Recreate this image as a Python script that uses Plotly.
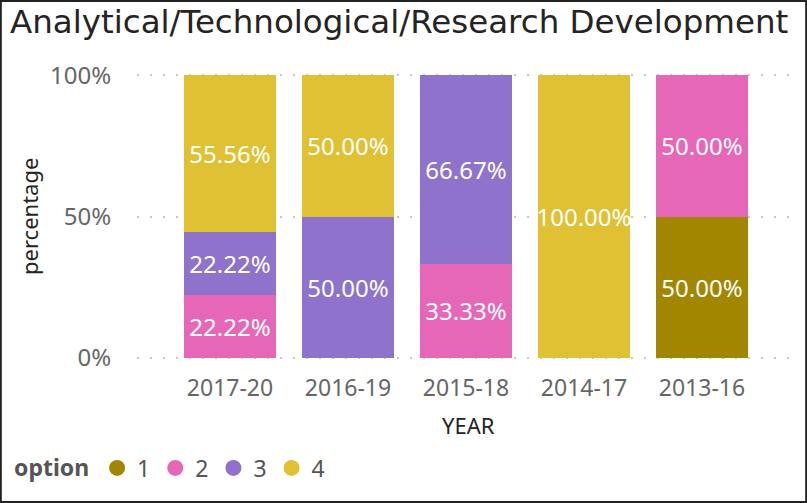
import plotly.graph_objects as go

years = ["2017-20", "2016-19", "2015-18", "2014-17", "2013-16"]
option_names = ["1", "2", "3", "4"]
opt1 = [None, None, None, None, 50.00]
opt2 = [22.22, None, 33.33, None, 50.00]
opt3 = [22.22, 50.00, 66.67, None, None]
opt4 = [55.56, 50.00, None, 100.00, None]
series = [opt1, opt2, opt3, opt4]
colors = ["#A38600", "#E667B8", "#8E72CC", "#E0C133"]
y_ticks = [0, 50, 100]
y_tick_text = ["0%", "50%", "100%"]

W, H = 807, 503
px_l, px_r, px_t, px_b = 137, 796, 74, 359

fig = go.Figure()
for name, vals, col in zip(option_names, series, colors):
    fig.add_trace(go.Bar(
        x=years, y=vals, name=name, marker=dict(color=col, line=dict(width=0)),
        text=[(f"{v:.2f}%" if v else "") for v in vals],
        textposition="inside", insidetextanchor="middle", constraintext="none",
        textangle=0,
        textfont=dict(color="white", size=24, family="Noto Sans"),
        showlegend=False, hoverinfo="skip", cliponaxis=False,
    ))
for name, col in zip(option_names, colors):
    fig.add_trace(go.Scatter(
        x=[None], y=[None], mode="markers", name=name,
        marker=dict(color=col, size=22, symbol="circle"), showlegend=True,
    ))

# category bands: first bar center 230, pitch 118
c0, pitch = 230, 118
xr0 = (px_l - c0) / pitch
xr1 = (px_r - c0) / pitch

fig.update_layout(
    width=W, height=H, margin=dict(l=0, r=0, t=0, b=0, autoexpand=False),
    paper_bgcolor="white", plot_bgcolor="white",
    barmode="stack", bargap=0.22,
    font=dict(family="Noto Sans", color="#666666"),
    xaxis=dict(domain=[px_l / W, px_r / W], range=[xr0, xr1], showgrid=False,
               zeroline=False, showline=False, ticks="outside", ticklen=8,
               tickcolor="rgba(0,0,0,0)", tickfont=dict(size=23, color="#666666")),
    yaxis=dict(domain=[1 - px_b / H, 1 - px_t / H], range=[-0.4, 100.4],
               tickvals=y_ticks, ticktext=y_tick_text, showgrid=True,
               gridcolor="#C8C8C8", gridwidth=2, griddash="2px,11px",
               zeroline=False, showline=False, ticks="outside", ticklen=20,
               tickcolor="rgba(0,0,0,0)", tickfont=dict(size=24, color="#666666")),
    legend=dict(orientation="h", x=12 / W, y=1 - 468 / H, xanchor="left", yanchor="middle",
                traceorder="normal",
                title=dict(text="<b>option</b>", font=dict(size=23, color="#555555")),
                font=dict(size=23, color="#555555"), itemwidth=30, tracegroupgap=0,
                bgcolor="rgba(0,0,0,0)"),
    title=dict(text="Analytical/Technological/Research Development",
               x=10 / W, xanchor="left", y=1 - 22 / H, yanchor="middle",
               font=dict(family="DejaVu Sans", size=32.5, color="#252423")),
    shapes=[dict(type="rect", xref="paper", yref="paper", x0=0.001, y0=0.002,
                 x1=0.999, y1=0.998, line=dict(color="#222222", width=2))],
    annotations=[
        dict(text="percentage", xref="paper", yref="paper", x=29 / W, y=1 - 217 / H,
             textangle=-90, showarrow=False, font=dict(size=22, color="#252423"),
             xanchor="center", yanchor="middle"),
        dict(text="YEAR", xref="paper", yref="paper", x=468 / W, y=1 - 425 / H,
             showarrow=False, font=dict(size=22, color="#252423"),
             xanchor="center", yanchor="middle"),
    ],
)

fig.write_html("out.html", config={"displayModeBar": False},
               post_script="document.body.style.margin='0';document.body.style.overflow='hidden';")
